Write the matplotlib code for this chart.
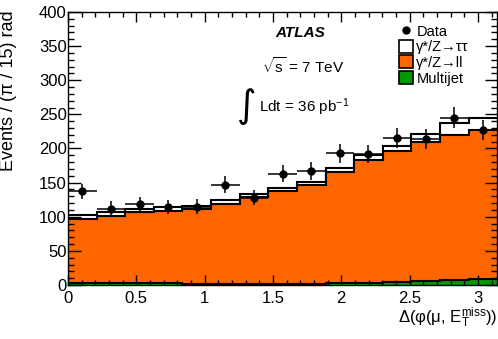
import numpy as np
import matplotlib.pyplot as plt
from matplotlib.patches import Patch
from matplotlib.lines import Line2D
from matplotlib.ticker import MultipleLocator

plt.rcParams['font.family'] = ['Liberation Sans', 'DejaVu Sans']
plt.rcParams['mathtext.fontset'] = 'custom'
plt.rcParams['mathtext.rm'] = 'Liberation Sans'
plt.rcParams['mathtext.it'] = 'Liberation Sans:italic'
plt.rcParams['mathtext.bf'] = 'Liberation Sans:bold'

# 15 bins of width pi/15 in delta phi
edges = np.linspace(0, np.pi, 16)

# event counts per bin
data = [137, 112, 118, 114, 115, 147, 128, 163, 167, 193, 192, 216, 214, 245, 227]
multijet = [3, 3, 3, 3, 2, 2, 2, 2, 2, 3, 3, 4, 6, 7, 9]
zll = [94, 98, 104, 106, 109, 117, 127, 135, 144, 162, 180, 192, 204, 213, 218]
ztautau = [6, 6, 4, 5, 5, 5, 5, 5, 5, 6, 7, 8, 11, 17, 18]

orange = '#ff6600'
green = '#009900'

fig = plt.figure(figsize=(4.98, 3.39), dpi=100)
ax = fig.add_axes([0.1365, 0.1593, 0.862, 0.8053])

mj = np.array(multijet, dtype=float)
ll_top = mj + np.array(zll)
tot = ll_top + np.array(ztautau)

# stacked histogram, drawn top to bottom
ax.stairs(tot, edges, baseline=0, fill=True, facecolor='white', edgecolor='none')
ax.stairs(tot, edges, baseline=None, color='black', lw=1.5)
ax.stairs(ll_top, edges, baseline=0, fill=True, facecolor=orange, edgecolor='none')
ax.stairs(ll_top, edges, baseline=None, color='black', lw=1.5)
ax.stairs(mj, edges, baseline=0, fill=True, facecolor=green, edgecolor='none')
ax.stairs(mj, edges, baseline=None, color='black', lw=1.5)

centers = 0.5 * (edges[:-1] + edges[1:])
d = np.array(data, dtype=float)
ax.errorbar(centers, d, xerr=(edges[1] - edges[0]) / 2, yerr=np.sqrt(d),
            fmt='o', color='black', ms=5, elinewidth=1.1, capsize=0, zorder=5)

ax.set_xlim(0, np.pi)
ax.set_ylim(0, 400)
ax.xaxis.set_major_locator(MultipleLocator(0.5))
ax.xaxis.set_minor_locator(MultipleLocator(0.1))
ax.yaxis.set_major_locator(MultipleLocator(50))
ax.yaxis.set_minor_locator(MultipleLocator(10))
ax.set_xticks([0, 0.5, 1, 1.5, 2, 2.5, 3])
ax.set_xticklabels(['0', '0.5', '1', '1.5', '2', '2.5', '3'])
ax.tick_params(which='both', direction='in', top=True, right=True, labelsize=12, width=1)
ax.tick_params(axis='x', which='major', length=7, pad=4)
ax.tick_params(axis='x', which='minor', length=3.5)
ax.tick_params(axis='y', which='major', length=9, pad=1)
ax.tick_params(axis='y', which='minor', length=4.5)
for s in ax.spines.values():
    s.set_linewidth(1)

ax.set_ylabel('Events / (π / 15) rad', fontsize=13, loc='top')
ax.yaxis.set_label_coords(-0.118, 1.005)
ax.set_xlabel(r'Δ(φ(μ, $\mathregular{E_T^{miss}}$))', fontsize=12, loc='right', labelpad=0)

# labels
fig.text(0.602, 0.902, 'ATLAS', fontsize=11, fontweight='bold', fontstyle='italic', ha='center', va='center')
fig.text(0.608, 0.805, r'$\mathregular{\sqrt{s}}$ = 7 TeV', fontsize=11, ha='center', va='center')
fig.text(0.496, 0.685, '∫', fontsize=27, ha='center', va='center', family='DejaVu Sans')
fig.text(0.521, 0.685, r'Ldt = 36 pb$\mathregular{^{-1}}$', fontsize=11, ha='left', va='center')

handles = [
    Line2D([], [], marker='o', color='black', ls='none', ms=5),
    Patch(facecolor='white', edgecolor='black', lw=1.2),
    Patch(facecolor=orange, edgecolor='black', lw=1.2),
    Patch(facecolor=green, edgecolor='black', lw=1.2),
]
labels = ['Data', 'γ*/Z→ττ', 'γ*/Z→ll', 'Multijet']
fig.legend(handles, labels, loc='upper left', bbox_to_anchor=(0.801, 0.929),
           frameon=False, fontsize=10.5, handlelength=1.0, handleheight=1.0,
           handletextpad=0.2, labelspacing=0.08, borderpad=0, borderaxespad=0)

fig.savefig('out.png', dpi=100)
